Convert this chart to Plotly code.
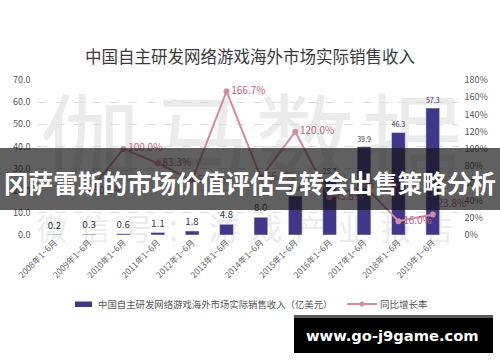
import plotly.graph_objects as go

# ---------------- data ----------------
categories = ["2008年1~6月", "2009年1~6月", "2010年1~6月", "2011年1~6月", "2012年1~6月",
              "2013年1~6月", "2014年1~6月", "2015年1~6月", "2016年1~6月", "2017年1~6月",
              "2018年1~6月", "2019年1~6月"]
revenue = [0.2, 0.3, 0.6, 1.1, 1.8, 4.8, 8.0, 17.6, 25.3, 39.9, 46.3, 57.3]
growth_cats = categories[1:]
growth = [50.0, 100.0, 83.3, 63.6, 166.7, 66.7, 120.0, 43.8, 57.7, 16.0, 23.8]
growth_pos = ["middle right"] * 10 + ["top right"]

left_ticks = [0, 10, 20, 30, 40, 50, 60, 70]
right_ticks = [0, 20, 40, 60, 80, 100, 120, 140, 160, 180]
right_tick_text = ["0%", "20%", "40%", "60%", "80%", "100%", "120%", "140%", "160%", "180%"]

title_text = "中国自主研发网络游戏海外市场实际销售收入"
legend_bar = "中国自主研发网络游戏海外市场实际销售收入（亿美元）"
legend_line = "同比增长率"
banner_text = "冈萨雷斯的市场价值评估与转会出售策略分析"
site_text = "www.go-j9game.com"
wm_big = ["伽", "马", "数", "据"]
wm_small = ["微", "信", "号", "：", "游", "戏", "产", "业", "报", "告"]

W, H = 500, 362
FONT = "Noto Sans CJK SC"
BAR_COLOR = "#41378a"
LINE_COLOR = "#d58aa2"
LABEL_PINK = "#c4617f"
WM_COLOR = "#ebebeb"


def px(x):
    return x / W


def py(y):
    return 1 - y / H


fig = go.Figure()

fig.add_trace(go.Bar(
    x=categories, y=revenue, width=0.4, marker_color=BAR_COLOR,
    text=[f"{v:.1f}" for v in revenue], textposition="outside",
    textfont=dict(family=FONT, size=10, color="#2f3550"),
    cliponaxis=False, yaxis="y", showlegend=False, hoverinfo="skip",
))

fig.add_trace(go.Scatter(
    x=growth_cats, y=growth, yaxis="y2", mode="lines+markers+text",
    line=dict(color=LINE_COLOR, width=2), marker=dict(size=6, color=LINE_COLOR),
    text=[f"{v:.1f}%" for v in growth], textposition=growth_pos,
    textfont=dict(family=FONT, size=10, color=LABEL_PINK),
    cliponaxis=False, showlegend=False, hoverinfo="skip",
))

shapes = []
annotations = []

# watermark (below traces)
big_centers = [90, 200, 305, 412]
for ch, cx in zip(wm_big, big_centers):
    shapes.append(dict(type="rect", xref="paper", yref="paper", layer="below",
                       x0=px(cx - 55), x1=px(cx + 55), y0=py(205), y1=py(95),
                       line=dict(width=0), fillcolor="rgba(0,0,0,0)",
                       label=dict(text=ch, font=dict(family=FONT, size=100, color=WM_COLOR),
                                  textposition="middle center")))
for i, ch in enumerate(wm_small):
    cx = 52 + i * 43
    shapes.append(dict(type="rect", xref="paper", yref="paper", layer="below",
                       x0=px(cx - 20), x1=px(cx + 20), y0=py(250), y1=py(214),
                       line=dict(width=0), fillcolor="rgba(0,0,0,0)",
                       label=dict(text=ch, font=dict(family=FONT, size=30, color=WM_COLOR),
                                  textposition="middle center")))

# title
annotations.append(dict(text=title_text, x=0.5, y=py(56), xref="paper", yref="paper",
                        showarrow=False, xanchor="center", yanchor="middle",
                        font=dict(family=FONT, size=16.5, color="#3a3a3a")))

# legend
shapes.append(dict(type="rect", xref="paper", yref="paper", x0=px(75), x1=px(92),
                   y0=py(307), y1=py(301.5), fillcolor=BAR_COLOR, line=dict(width=0)))
annotations.append(dict(text=legend_bar, x=px(96), y=py(304), xref="paper", yref="paper",
                        showarrow=False, xanchor="left", yanchor="middle",
                        font=dict(family=FONT, size=9.4, color="#555555")))
shapes.append(dict(type="line", xref="paper", yref="paper", x0=px(347), x1=px(377),
                   y0=py(304), y1=py(304), line=dict(color=LINE_COLOR, width=2)))
shapes.append(dict(type="circle", xref="paper", yref="paper", x0=px(359.5), x1=px(364.5),
                   y0=py(306.5), y1=py(301.5), fillcolor=LINE_COLOR, line=dict(width=0)))
annotations.append(dict(text=legend_line, x=px(378), y=py(304), xref="paper", yref="paper",
                        showarrow=False, xanchor="left", yanchor="middle",
                        font=dict(family=FONT, size=9.5, color="#555555")))

# overlay banner
shapes.append(dict(type="rect", xref="paper", yref="paper", layer="above",
                   x0=0, x1=1, y0=py(210), y1=py(148),
                   fillcolor="rgba(20,20,20,0.68)", line=dict(width=0)))
annotations.append(dict(text=f"<b>{banner_text}</b>", x=0.5, y=py(182), xref="paper", yref="paper",
                        showarrow=False, xanchor="center", yanchor="middle",
                        font=dict(family=FONT, size=24.6, color="white")))

# site banner
shapes.append(dict(type="rect", xref="paper", yref="paper", layer="above",
                   x0=px(294), x1=px(493), y0=py(318), y1=py(315),
                   fillcolor="#5a5a5a", line=dict(width=0)))
shapes.append(dict(type="rect", xref="paper", yref="paper", layer="above",
                   x0=px(294), x1=px(493), y0=py(353), y1=py(318),
                   fillcolor="#000000", line=dict(width=0)))
annotations.append(dict(text=f"<b>{site_text}</b>", x=px(392), y=py(335), xref="paper", yref="paper",
                        showarrow=False, xanchor="center", yanchor="middle",
                        font=dict(family="DejaVu Sans", size=14.7, color="white")))

fig.update_layout(
    width=W, height=H, margin=dict(l=0, r=0, t=0, b=0, pad=0), autosize=False,
    paper_bgcolor="white", plot_bgcolor="rgba(0,0,0,0)",
    font=dict(family=FONT, color="#555555"),
    shapes=shapes, annotations=annotations, bargap=0.6,
    xaxis=dict(domain=[px(37.5), px(457.5)], type="category", tickangle=-45, automargin=False,
               tickfont=dict(family=FONT, size=8.5, color="#666666"),
               showgrid=False, showline=False, zeroline=False, ticks=""),
    yaxis=dict(domain=[py(235), py(80)], range=[0, 70], tickvals=left_ticks, automargin=False,
               tickformat=".1f", tickfont=dict(family=FONT, size=9, color="#555555"),
               showgrid=True, gridcolor="#dedede", griddash="dash", gridwidth=1,
               zeroline=False, showline=False, ticklabelstandoff=6),
    yaxis2=dict(domain=[py(235), py(80)], range=[0, 180], overlaying="y", side="right",
                tickmode="array", tickvals=right_ticks, ticktext=right_tick_text, automargin=False,
                tickfont=dict(family=FONT, size=9, color="#555555"),
                showgrid=False, zeroline=False, showline=False, ticklabelstandoff=6),
)

fig.write_html("out.html")
